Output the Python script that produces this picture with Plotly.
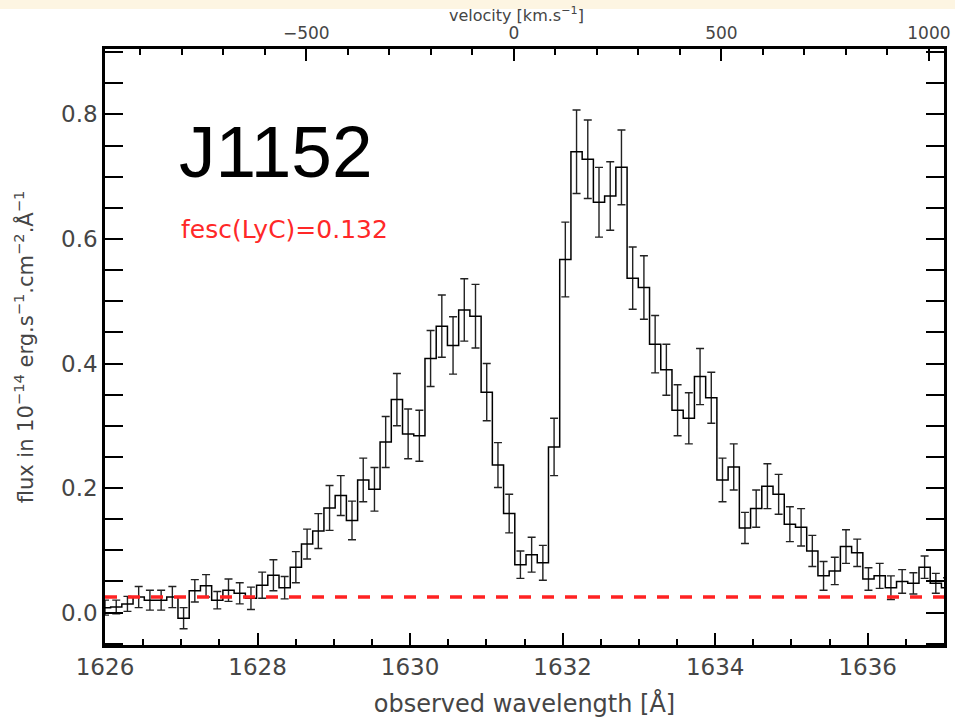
import numpy as np
import plotly.graph_objects as go

# --- spectrum of J1152 around Lyman-alpha (observed frame) ---
bin_start = 1626.0      # centre of the first bin [A]
bin_width = 0.1472      # bin size [A]

flux = [0.008, 0.009, 0.014, 0.025, 0.020, 0.020, 0.025, -0.009, 0.035, 0.043,
        0.020, 0.036, 0.031, 0.023, 0.044, 0.060, 0.040, 0.073, 0.110, 0.131,
        0.168, 0.188, 0.148, 0.213, 0.198, 0.274, 0.342, 0.287, 0.284, 0.408,
        0.460, 0.429, 0.486, 0.476, 0.354, 0.237, 0.159, 0.077, 0.093, 0.080,
        0.266, 0.567, 0.740, 0.728, 0.659, 0.669, 0.715, 0.537, 0.522, 0.431,
        0.390, 0.325, 0.312, 0.379, 0.345, 0.213, 0.234, 0.136, 0.167, 0.203,
        0.190, 0.142, 0.137, 0.099, 0.059, 0.067, 0.106, 0.096, 0.054, 0.059,
        0.040, 0.050, 0.047, 0.073, 0.047, 0.040]

flux_err = [0.012, 0.011, 0.012, 0.017, 0.016, 0.016, 0.017, 0.017, 0.018, 0.018,
            0.014, 0.018, 0.017, 0.018, 0.021, 0.025, 0.018, 0.025, 0.024, 0.028,
            0.036, 0.032, 0.031, 0.035, 0.035, 0.041, 0.042, 0.040, 0.041, 0.045,
            0.050, 0.046, 0.050, 0.051, 0.046, 0.036, 0.031, 0.022, 0.028, 0.028,
            0.046, 0.060, 0.067, 0.063, 0.056, 0.055, 0.060, 0.050, 0.051, 0.046,
            0.041, 0.041, 0.041, 0.045, 0.041, 0.035, 0.037, 0.025, 0.030, 0.036,
            0.032, 0.028, 0.030, 0.025, 0.023, 0.022, 0.027, 0.022, 0.018, 0.020,
            0.019, 0.019, 0.017, 0.018, 0.016, 0.016]

wave = bin_start + bin_width * np.arange(len(flux))

# continuum level used for the escape-fraction estimate
continuum_level = 0.025
fesc_lyc = 0.132
galaxy = "J1152"

# velocity scale relative to the systemic Lya wavelength
c_kms = 299792.458
lam_sys = 1631.36
wave_range = [1626.0, 1637.0]
vel_range = [c_kms * (w / lam_sys - 1.0) for w in wave_range]
vel_ticks = [-500, 0, 500, 1000]

y_range = [-0.052, 0.905]

grey = "#454545"
font_family = "DejaVu Sans, Liberation Sans, sans-serif"

fig = go.Figure()

# stepped spectrum with 1-sigma error bars
fig.add_trace(go.Scatter(
    x=wave, y=flux, mode="lines",
    line=dict(color="black", width=1.5, shape="hvh"),
    error_y=dict(type="data", array=flux_err, visible=True,
                 color="#222222", thickness=1.4, width=4),
    hoverinfo="skip", showlegend=False,
))

# continuum level, drawn on the velocity axis across the whole window
fig.add_trace(go.Scatter(
    x=vel_range, y=[continuum_level, continuum_level], mode="lines",
    xaxis="x2", yaxis="y",
    line=dict(color="#ff2222", width=3.5, dash="12px,11px"),
    hoverinfo="skip", showlegend=False,
))

axis_common = dict(
    showgrid=False, zeroline=False, showline=True, linecolor="black",
    linewidth=2.5, ticks="inside", tickcolor="black", tickwidth=2,
    tickfont=dict(family=font_family, size=23, color=grey),
)

fig.update_layout(
    width=955, height=723,
    margin=dict(l=105, r=11, t=49, b=78, autoexpand=False),
    paper_bgcolor="white", plot_bgcolor="white",
    xaxis=dict(
        **axis_common,
        range=wave_range, dtick=2, tick0=1626, ticklen=12,
        minor=dict(dtick=0.5, ticklen=6, tickwidth=2, tickcolor="black", ticks="inside"),
        mirror=False,
        title=dict(text="observed wavelength [Å]",
                   font=dict(family=font_family, size=24, color=grey), standoff=16),
    ),
    xaxis2=dict(
        showgrid=False, zeroline=False, showline=True, linecolor="black",
        linewidth=2.5, ticks="inside", tickcolor="black", tickwidth=2,
        overlaying="x", side="top", anchor="y",
        range=vel_range, tickvals=vel_ticks,
        ticktext=[("−" + str(abs(v))) if v < 0 else str(v) for v in vel_ticks],
        ticklen=12,
        minor=dict(dtick=100, tick0=0, ticklen=6, tickwidth=2, tickcolor="black", ticks="inside"),
        tickfont=dict(family=font_family, size=17, color=grey),
    ),
    yaxis=dict(
        **axis_common,
        range=y_range, dtick=0.2, tick0=0, tickformat=".1f", ticklen=18,
        minor=dict(dtick=0.05, ticklen=9, tickwidth=2, tickcolor="black", ticks="inside"),
        mirror="allticks",
        title=dict(text="flux in 10<sup>−14</sup> erg.s<sup>−1</sup>.cm<sup>−2</sup>.Å<sup>−1</sup>",
                   font=dict(family=font_family, size=21, color=grey), standoff=22),
    ),
    shapes=[
        # cream banner strip along the top edge
        dict(type="rect", xref="paper", yref="paper",
             x0=-0.2, x1=1.1, y0=1.067, y1=1.09,
             fillcolor="#fdf5e2", line=dict(width=0), layer="below"),
    ],
    annotations=[
        dict(text=galaxy, xref="paper", yref="paper", x=0.086, y=0.828,
             xanchor="left", yanchor="middle", showarrow=False,
             font=dict(family="Liberation Sans, sans-serif", size=73, color="black")),
        dict(text=f"fesc(LyC)={fesc_lyc:.3f}", xref="paper", yref="paper",
             x=0.088, y=0.697, xanchor="left", yanchor="middle", showarrow=False,
             font=dict(family=font_family, size=25, color="#ff2828")),
        dict(text="velocity [km.s<sup>−1</sup>]", xref="paper", yref="paper",
             x=0.49, y=1.058, xanchor="center", yanchor="middle", showarrow=False,
             font=dict(family=font_family, size=16, color=grey)),
    ],
)

fig.write_html("out.html")
